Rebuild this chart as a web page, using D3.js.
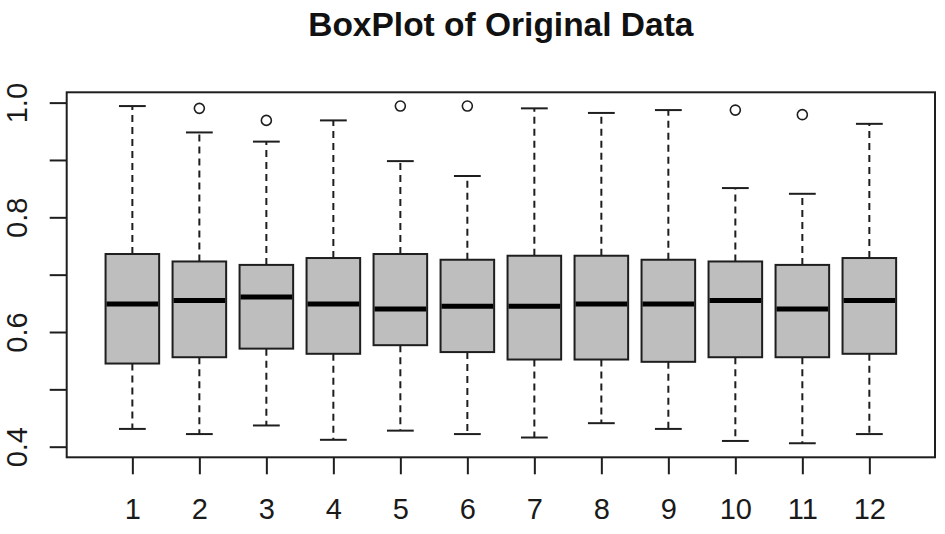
<!DOCTYPE html>
<html>
<head>
<meta charset="utf-8">
<script src="https://cdn.jsdelivr.net/npm/d3@7"></script>
<style>
  body { margin: 0; background: #fff; }
  svg { display: block; font-family: "Liberation Sans", Arial, sans-serif; }
</style>
</head>
<body>
<svg id="chart" width="945" height="534"></svg>
<script>
// values
let categories = [1, 2, 3, 4, 5, 6, 7, 8, 9, 10, 11, 12];
let whiskerLow = [0.431, 0.422, 0.437, 0.412, 0.428, 0.422, 0.416, 0.441, 0.431, 0.410, 0.406, 0.422];
let q1 = [0.545, 0.556, 0.571, 0.562, 0.577, 0.565, 0.552, 0.552, 0.548, 0.556, 0.556, 0.562];
let median = [0.649, 0.655, 0.661, 0.649, 0.640, 0.645, 0.645, 0.649, 0.649, 0.655, 0.640, 0.655];
let q3 = [0.736, 0.723, 0.717, 0.729, 0.736, 0.726, 0.733, 0.733, 0.726, 0.723, 0.717, 0.729];
let whiskerHigh = [0.994, 0.948, 0.932, 0.969, 0.898, 0.872, 0.990, 0.982, 0.987, 0.851, 0.841, 0.963];
let outliers = [[], [0.990], [0.969], [], [0.994], [0.994], [], [], [], [0.987], [0.979], []];
let yTicks = [0.4, 0.5, 0.6, 0.7, 0.8, 0.9, 1.0];
let yLabels = ["0.4", "", "0.6", "", "0.8", "", "1.0"];

let boxes = categories.map((c, i) => ({
  cat: c,
  lo: whiskerLow[i],
  q1: q1[i],
  med: median[i],
  q3: q3[i],
  hi: whiskerHigh[i],
  out: outliers[i]
}));

let svg = d3.select("#chart");

let plot = { left: 66.7, right: 935, top: 92.3, bottom: 457.3 };

let x = d3.scaleLinear().domain([0.02, 12.98]).range([plot.left, plot.right]);
let y = d3.scaleLinear().domain([0.3815, 1.018]).range([plot.bottom, plot.top]);

let boxHalf = (x(1.4) - x(1)) ;
let capHalf = boxHalf / 2;
let ink = "#1e1e1e";

// title
svg
  .append("text")
  .attr("x", (plot.left + plot.right) / 2)
  .attr("y", 36)
  .attr("text-anchor", "middle")
  .attr("font-size", 33.5)
  .attr("font-weight", "bold")
  .attr("fill", "#111")
  .text("BoxPlot of Original Data");

// whiskers
let g = svg.append("g");

let whisk = g.selectAll("g.box").data(boxes).enter().append("g").attr("class", "box");

whisk
  .append("line")
  .attr("x1", (d) => x(d.cat))
  .attr("x2", (d) => x(d.cat))
  .attr("y1", (d) => y(d.q3))
  .attr("y2", (d) => y(d.hi))
  .attr("stroke", ink)
  .attr("stroke-width", 2)
  .attr("stroke-dasharray", "7,5");

whisk
  .append("line")
  .attr("x1", (d) => x(d.cat))
  .attr("x2", (d) => x(d.cat))
  .attr("y1", (d) => y(d.q1))
  .attr("y2", (d) => y(d.lo))
  .attr("stroke", ink)
  .attr("stroke-width", 2)
  .attr("stroke-dasharray", "7,5");

// staples
whisk
  .append("line")
  .attr("x1", (d) => x(d.cat) - capHalf)
  .attr("x2", (d) => x(d.cat) + capHalf)
  .attr("y1", (d) => y(d.hi))
  .attr("y2", (d) => y(d.hi))
  .attr("stroke", ink)
  .attr("stroke-width", 2);

whisk
  .append("line")
  .attr("x1", (d) => x(d.cat) - capHalf)
  .attr("x2", (d) => x(d.cat) + capHalf)
  .attr("y1", (d) => y(d.lo))
  .attr("y2", (d) => y(d.lo))
  .attr("stroke", ink)
  .attr("stroke-width", 2);

// boxes
whisk
  .append("rect")
  .attr("x", (d) => x(d.cat) - boxHalf)
  .attr("width", boxHalf * 2)
  .attr("y", (d) => y(d.q3))
  .attr("height", (d) => y(d.q1) - y(d.q3))
  .attr("fill", "#bebebe")
  .attr("stroke", ink)
  .attr("stroke-width", 2);

// medians
whisk
  .append("line")
  .attr("x1", (d) => x(d.cat) - boxHalf + 1)
  .attr("x2", (d) => x(d.cat) + boxHalf - 1)
  .attr("y1", (d) => y(d.med))
  .attr("y2", (d) => y(d.med))
  .attr("stroke", "#000")
  .attr("stroke-width", 5);

// outliers
whisk
  .selectAll("circle")
  .data((d) => d.out.map((v) => ({ cat: d.cat, v: v })))
  .enter()
  .append("circle")
  .attr("cx", (d) => x(d.cat))
  .attr("cy", (d) => y(d.v))
  .attr("r", 5)
  .attr("fill", "#fff")
  .attr("stroke", ink)
  .attr("stroke-width", 1.6);

// axes
let xAxis = svg
  .append("g")
  .attr("transform", `translate(0, ${plot.bottom})`)
  .call(d3.axisBottom(x).tickValues(categories).tickSize(17).tickFormat(d3.format("d")));

xAxis.select(".domain").remove();
xAxis.selectAll(".tick line").attr("stroke", ink).attr("stroke-width", 2);
xAxis
  .selectAll(".tick text")
  .attr("y", 62)
  .attr("dy", 0)
  .attr("font-size", 29)
  .attr("font-family", "'Liberation Sans', Arial, sans-serif")
  .attr("fill", "#1a1a1a");

let yAxis = svg
  .append("g")
  .attr("transform", `translate(${plot.left}, 0)`)
  .call(d3.axisLeft(y).tickValues(yTicks).tickSize(17).tickFormat((d, i) => yLabels[i]));

yAxis.select(".domain").remove();
yAxis.selectAll(".tick line").attr("stroke", ink).attr("stroke-width", 2);
yAxis
  .selectAll(".tick text")
  .attr("x", 0)
  .attr("dy", 0)
  .attr("text-anchor", "middle")
  .attr("transform", "translate(-40, 0) rotate(-90)")
  .attr("font-size", 29)
  .attr("font-family", "'Liberation Sans', Arial, sans-serif")
  .attr("fill", "#1a1a1a");

// frame
svg
  .append("rect")
  .attr("x", plot.left)
  .attr("y", plot.top)
  .attr("width", plot.right - plot.left)
  .attr("height", plot.bottom - plot.top)
  .attr("fill", "none")
  .attr("stroke", ink)
  .attr("stroke-width", 2);
</script>
</body>
</html>
